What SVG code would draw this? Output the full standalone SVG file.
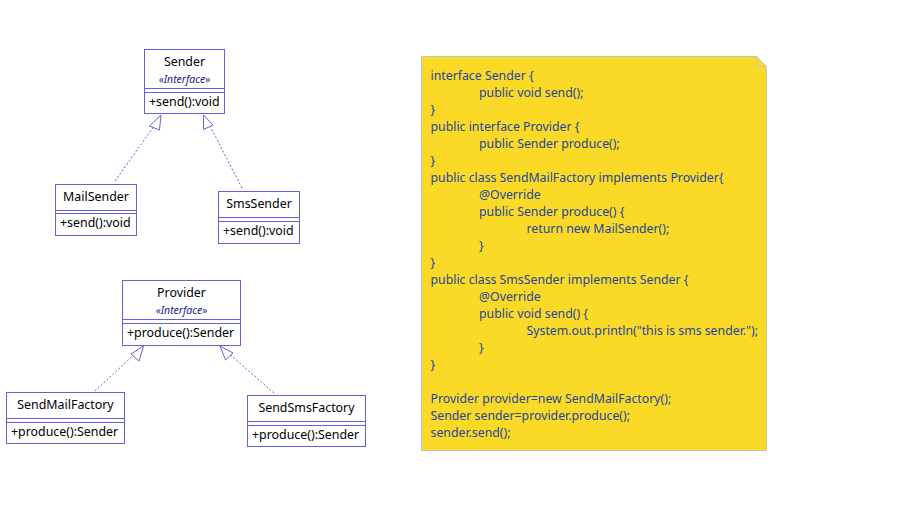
<svg xmlns="http://www.w3.org/2000/svg" width="914" height="518" viewBox="0 0 914 518">
<style>
.box{fill:#fff;stroke:#6262d6;stroke-width:1}
.sep{stroke:#6262d6;stroke-width:1}
.nm{font-family:"Noto Sans","Liberation Sans",sans-serif;font-size:12.4px;fill:#000;text-anchor:middle}
.st{font-family:"Noto Sans","Liberation Sans",sans-serif;font-size:10.5px;font-style:italic;fill:#222288;text-anchor:middle}
.op{font-family:"Noto Sans","Liberation Sans",sans-serif;font-size:12.4px;fill:#000}
.conn{fill:none;stroke:#6262d6;stroke-width:1;stroke-dasharray:2,2}
.tri{fill:#fff;stroke:#6262d6;stroke-width:1}
.code{font-family:"Noto Sans","Liberation Sans",sans-serif;font-size:12.3px;fill:#23469b}
</style>
<rect width="914" height="518" fill="#fff"/>
<g id="connectors">
<line class="conn" x1="115" y1="181" x2="157" y2="122"/>
<polygon class="tri" points="161,115 149.5,126 159.5,130"/>
<line class="conn" x1="242" y1="188" x2="208" y2="122"/>
<polygon class="tri" points="203.5,115 203.5,129.5 213,125"/>
<line class="conn" x1="95" y1="391" x2="138" y2="351"/>
<polygon class="tri" points="143.5,346 131,354 139,361"/>
<line class="conn" x1="274" y1="393" x2="226" y2="351"/>
<polygon class="tri" points="220,346 225.5,360 233,353"/>
</g>
<g id="Sender">
<rect class="box" x="144.5" y="49.5" width="80" height="64"/>
<line class="sep" x1="144.5" y1="88.5" x2="224.5" y2="88.5"/>
<line class="sep" x1="144.5" y1="92.5" x2="224.5" y2="92.5"/>
<text class="nm" x="184.5" y="66">Sender</text>
<text class="st" x="184.5" y="83">«Interface»</text>
<text class="op" x="149" y="106">+send():void</text>
</g>
<g id="MailSender">
<rect class="box" x="55.5" y="184.5" width="81" height="51"/>
<line class="sep" x1="55.5" y1="210.5" x2="136.5" y2="210.5"/>
<line class="sep" x1="55.5" y1="213.5" x2="136.5" y2="213.5"/>
<text class="nm" x="96" y="201">MailSender</text>
<text class="op" x="60" y="227">+send():void</text>
</g>
<g id="SmsSender">
<rect class="box" x="218.5" y="191.5" width="81" height="52"/>
<line class="sep" x1="218.5" y1="217.5" x2="299.5" y2="217.5"/>
<line class="sep" x1="218.5" y1="221.5" x2="299.5" y2="221.5"/>
<text class="nm" x="259" y="208">SmsSender</text>
<text class="op" x="223" y="235">+send():void</text>
</g>
<g id="Provider">
<rect class="box" x="122.5" y="280.5" width="118" height="65"/>
<line class="sep" x1="122.5" y1="319.5" x2="240.5" y2="319.5"/>
<line class="sep" x1="122.5" y1="323.5" x2="240.5" y2="323.5"/>
<text class="nm" x="181.5" y="297">Provider</text>
<text class="st" x="181.5" y="314">«Interface»</text>
<text class="op" x="127" y="337">+produce():Sender</text>
</g>
<g id="SendMailFactory">
<rect class="box" x="6.5" y="392.5" width="118" height="51"/>
<line class="sep" x1="6.5" y1="418.5" x2="124.5" y2="418.5"/>
<line class="sep" x1="6.5" y1="422.5" x2="124.5" y2="422.5"/>
<text class="nm" x="65.5" y="409">SendMailFactory</text>
<text class="op" x="11" y="436">+produce():Sender</text>
</g>
<g id="SendSmsFactory">
<rect class="box" x="247.5" y="395.5" width="118" height="51"/>
<line class="sep" x1="247.5" y1="421.5" x2="365.5" y2="421.5"/>
<line class="sep" x1="247.5" y1="425.5" x2="365.5" y2="425.5"/>
<text class="nm" x="306.5" y="412">SendSmsFactory</text>
<text class="op" x="252" y="439">+produce():Sender</text>
</g>
<g id="note">
<path d="M421.5,56.5 H756.5 L766.5,66.5 V450.5 H421.5 Z" fill="#fbd927" stroke="#c4c4c4"/>
<path d="M756.5,56.5 V66.5 H766.5" fill="none" stroke="#c4c4c4"/>
<text class="code">
<tspan x="430.5" y="79.5">interface Sender {</tspan>
<tspan x="479" y="96.5">public void send();</tspan>
<tspan x="430.5" y="113.5">}</tspan>
<tspan x="430.5" y="130.5">public interface Provider {</tspan>
<tspan x="479" y="147.5">public Sender produce();</tspan>
<tspan x="430.5" y="164.5">}</tspan>
<tspan x="430.5" y="181.5">public class SendMailFactory implements Provider{</tspan>
<tspan x="479" y="198.5">@Override</tspan>
<tspan x="479" y="215.5">public Sender produce() {</tspan>
<tspan x="526.5" y="232.5">return new MailSender();</tspan>
<tspan x="479" y="249.5">}</tspan>
<tspan x="430.5" y="266.5">}</tspan>
<tspan x="430.5" y="283.5">public class SmsSender implements Sender {</tspan>
<tspan x="479" y="300.5">@Override</tspan>
<tspan x="479" y="317.5">public void send() {</tspan>
<tspan x="526.5" y="334.5">System.out.println("this is sms sender.");</tspan>
<tspan x="479" y="351.5">}</tspan>
<tspan x="430.5" y="368.5">}</tspan>
<tspan x="430.5" y="402.5">Provider provider=new SendMailFactory();</tspan>
<tspan x="430.5" y="419.5">Sender sender=provider.produce();</tspan>
<tspan x="430.5" y="436.5">sender.send();</tspan>
</text>
</g>
</svg>
